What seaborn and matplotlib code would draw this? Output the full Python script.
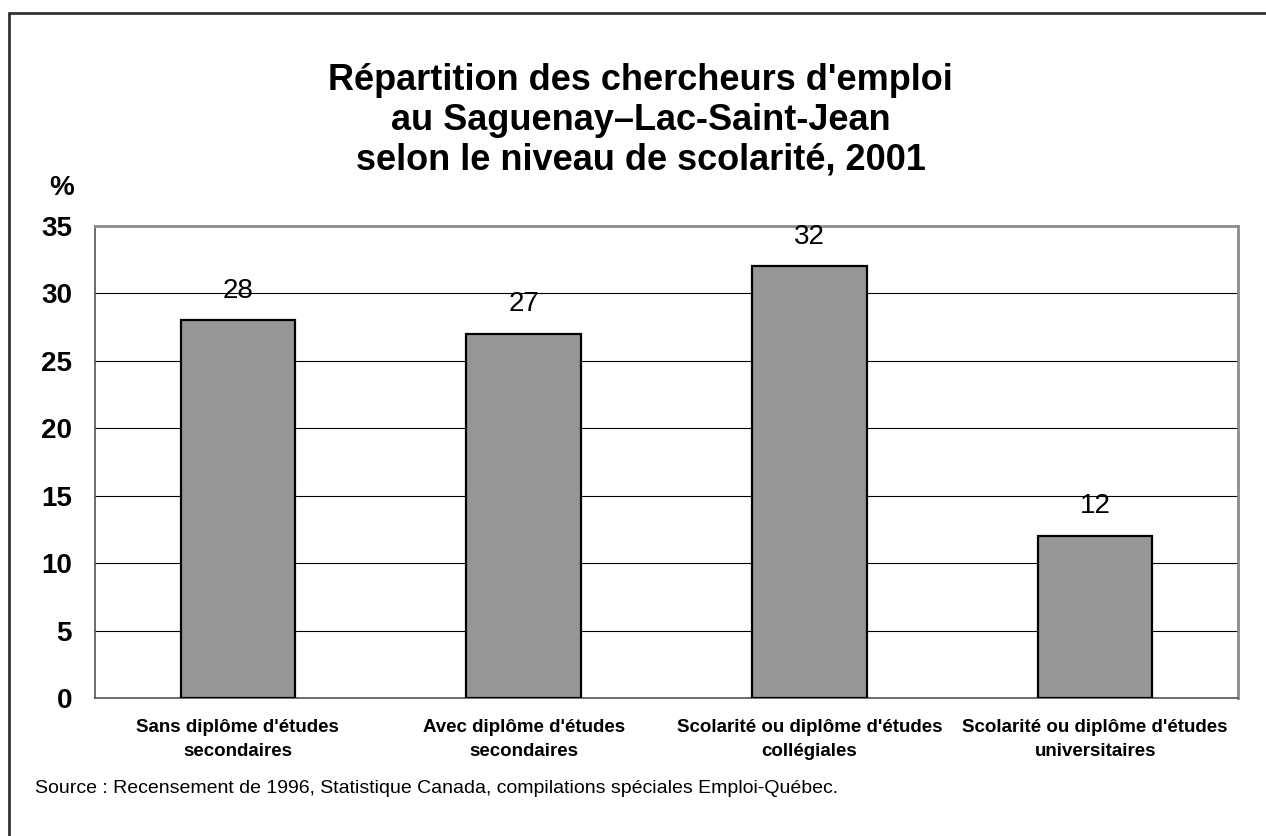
import matplotlib
matplotlib.use("Agg")
import matplotlib.pyplot as plt
import seaborn as sns
import pandas as pd
from matplotlib.lines import Line2D

categories = ["Sans diplôme d'études\nsecondaires",
              "Avec diplôme d'études\nsecondaires",
              "Scolarité ou diplôme d'études\ncollégiales",
              "Scolarité ou diplôme d'études\nuniversitaires"]
values = [28, 27, 32, 12]
yticks = [0, 5, 10, 15, 20, 25, 30, 35]

sns.set_style("white")
plt.rcParams['font.family'] = ['Liberation Sans', 'DejaVu Sans']
plt.rcParams['text.color'] = 'black'
plt.rcParams['xtick.labelcolor'] = 'black'
plt.rcParams['ytick.labelcolor'] = 'black'

df = pd.DataFrame({"cat": categories, "pct": values})

fig = plt.figure(figsize=(12.66, 8.36), dpi=100)
ax = fig.add_axes([0.075, 0.165, 0.903, 0.565])

sns.barplot(data=df, x="cat", y="pct", color="#969696", saturation=1,
            edgecolor="black", linewidth=1.6, width=0.4, ax=ax, zorder=3)

ax.set_ylim(0, 35)
ax.set_xlim(-0.5, len(categories) - 0.5)
ax.set_yticks(yticks)
ax.set_yticklabels([str(t) for t in yticks], fontsize=20, fontweight='bold')
ax.yaxis.grid(True, color="black", linewidth=0.8, zorder=0)
ax.set_axisbelow(True)

# category boundaries as major ticks, names on minor ticks
ax.set_xticks([i - 0.5 for i in range(len(categories) + 1)])
ax.set_xticklabels([])
ax.set_xticks(range(len(categories)), minor=True)
ax.set_xticklabels(categories, minor=True, fontsize=13.5, fontweight='bold',
                   linespacing=1.55)
ax.tick_params(axis='x', which='minor', length=0, pad=15)
ax.tick_params(axis='x', which='major', direction='out', length=6, width=1, color='#555555')
ax.tick_params(axis='y', direction='out', length=6.5, width=1, color='#555555', pad=10)
ax.set_xlabel("")
ax.set_ylabel("")

for s in ["top", "right"]:
    ax.spines[s].set_color("#8c8c8c")
    ax.spines[s].set_linewidth(2)
for s in ["left", "bottom"]:
    ax.spines[s].set_color("#555555")
    ax.spines[s].set_linewidth(1.2)

for i, v in enumerate(values):
    ax.annotate(str(v), (i, v), xytext=(0, 12), textcoords="offset points",
                ha="center", va="bottom", fontsize=20)

fig.text(0.049, 0.775, "%", fontsize=20, fontweight='bold', ha='center', va='center')
fig.text(0.506, 0.925,
         "Répartition des chercheurs d'emploi\nau Saguenay–Lac-Saint-Jean\nselon le niveau de scolarité, 2001",
         fontsize=26, fontweight='bold', ha='center', va='top', linespacing=1.19)
fig.text(0.028, 0.057,
         "Source : Recensement de 1996, Statistique Canada, compilations spéciales Emploi-Québec.",
         fontsize=14, ha='left', va='center')

# outer frame (left and top only, as in the original export)
fig.add_artist(Line2D([0.0075, 0.0075], [0, 0.985], transform=fig.transFigure, color="#333333", lw=2))
fig.add_artist(Line2D([0.0075, 1.0], [0.985, 0.985], transform=fig.transFigure, color="#333333", lw=2))

fig.savefig("out.png", dpi=100)
